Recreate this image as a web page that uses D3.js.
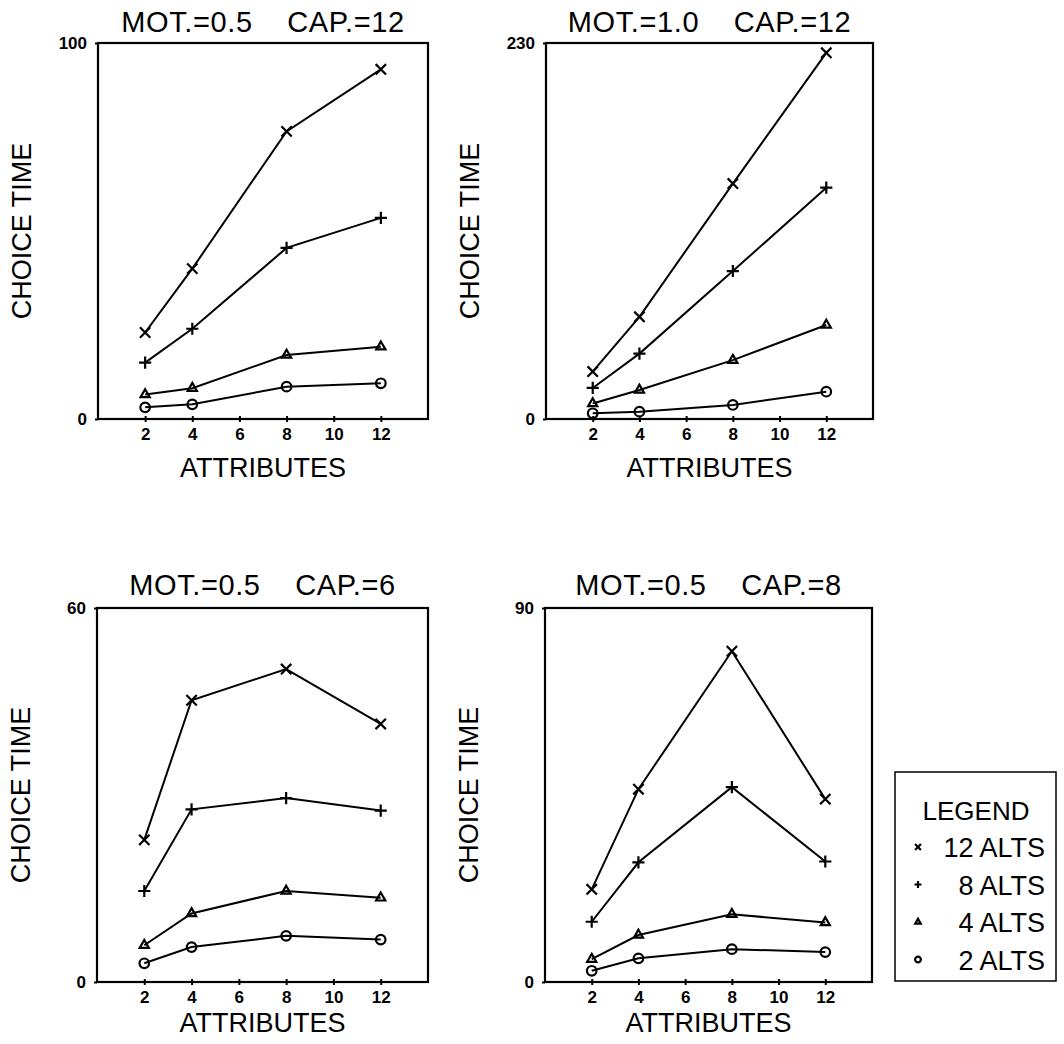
<!DOCTYPE html>
<html>
<head>
<meta charset="utf-8">
<script src="https://cdn.jsdelivr.net/npm/d3@7"></script>
<style>
  body { margin: 0; background: #fff; }
  text { font-family: "Liberation Sans", Arial, sans-serif; fill: #000; }
</style>
</head>
<body>
<svg id="chart"></svg>
<script>
// data
const attributes = [2, 4, 8, 12];
const xTickValues = [2, 4, 6, 8, 10, 12];
const seriesNames = ['12 ALTS', '8 ALTS', '4 ALTS', '2 ALTS'];
const panelTitles = ['MOT.=0.5    CAP.=12', 'MOT.=1.0    CAP.=12', 'MOT.=0.5    CAP.=6', 'MOT.=0.5    CAP.=8'];
const yMaxValues = [100, 230, 60, 90];

// choice time per panel, one row per series (12, 8, 4, 2 alts)
const mot05cap12 = [
    [23, 40, 76.5, 93],
    [15, 24, 45.5, 53.5],
    [6.5, 8.2, 17, 19.2],
    [3.1, 3.9, 8.6, 9.5]
];
const mot10cap12 = [
    [29, 62.5, 144, 224],
    [19, 40, 90.5, 141.5],
    [9.5, 17.7, 36, 57.5],
    [3.5, 4.5, 8.6, 16.7]
];
const mot05cap6 = [
    [22.8, 45.2, 50.2, 41.4],
    [14.6, 27.7, 29.5, 27.5],
    [5.9, 11, 14.6, 13.5],
    [3, 5.6, 7.4, 6.8]
];
const mot05cap8 = [
    [22.3, 46.4, 79.6, 44],
    [14.5, 28.8, 46.9, 29],
    [5.5, 11.3, 16.3, 14.3],
    [2.7, 5.7, 7.9, 7.2]
];
const panelData = [mot05cap12, mot10cap12, mot05cap6, mot05cap8];

// layout
const width = 1064;
const height = 1044;
const boxes = [
    { left: 98, top: 43, right: 428, bottom: 419, titleGap: 11, labelGap: 58 },
    { left: 546, top: 43, right: 873, bottom: 419, titleGap: 11, labelGap: 58 },
    { left: 97, top: 608, right: 428, bottom: 982, titleGap: 13, labelGap: 50 },
    { left: 545, top: 608, right: 872, bottom: 982, titleGap: 13, labelGap: 50 }
];

const symbolTypes = [d3.symbolTimes, d3.symbolPlus, d3.symbolTriangle2, d3.symbolCircle];
const symbolSizes = [72, 50, 60, 72];
const legendSizes = [24, 18, 22, 26];

const svg = d3.select('#chart')
    .attr('width', width)
    .attr('height', height);

function drawPanel(i) {
    const box = boxes[i];
    const x = d3.scaleLinear().domain([0, 14]).range([box.left, box.right]);
    const y = d3.scaleLinear().domain([0, yMaxValues[i]]).range([box.bottom, box.top]);
    const g = svg.append('g');
    const cx = (box.left + box.right) / 2;
    const cy = (box.top + box.bottom) / 2;

    // frame
    g.append('rect')
        .attr('x', box.left)
        .attr('y', box.top)
        .attr('width', box.right - box.left)
        .attr('height', box.bottom - box.top)
        .attr('fill', 'none')
        .attr('stroke', '#000')
        .attr('stroke-width', 2.2);

    // x ticks
    const xAxis = d3.axisBottom(x)
        .tickValues(xTickValues)
        .tickSize(3)
        .tickSizeOuter(0)
        .tickPadding(6);
    const xg = g.append('g')
        .attr('transform', `translate(0,${box.bottom})`)
        .call(xAxis);
    xg.select('.domain').remove();
    xg.selectAll('line').attr('y1', -3).attr('stroke-width', 2);
    xg.selectAll('text')
        .style('font-family', '"Liberation Sans", Arial, sans-serif')
        .style('font-weight', 'bold')
        .style('font-size', '17px');

    // y ticks: only 0 and max
    const yAxis = d3.axisLeft(y)
        .tickValues([0, yMaxValues[i]])
        .tickSize(3)
        .tickSizeOuter(0)
        .tickPadding(8);
    const yg = g.append('g')
        .attr('transform', `translate(${box.left},0)`)
        .call(yAxis);
    yg.select('.domain').remove();
    yg.selectAll('line').attr('stroke-width', 2);
    yg.selectAll('text')
        .style('font-family', '"Liberation Sans", Arial, sans-serif')
        .style('font-weight', 'bold')
        .style('font-size', '17px');

    // title
    g.append('text')
        .attr('x', cx)
        .attr('y', box.top - box.titleGap)
        .attr('text-anchor', 'middle')
        .style('white-space', 'pre')
        .style('font-size', '29px')
        .style('letter-spacing', '0.6px')
        .text(panelTitles[i]);

    // axis labels
    g.append('text')
        .attr('x', cx)
        .attr('y', box.bottom + box.labelGap)
        .attr('text-anchor', 'middle')
        .style('font-size', '27px')
        .text('ATTRIBUTES');
    g.append('text')
        .attr('transform', `translate(${box.left - 67},${cy}) rotate(-90)`)
        .attr('text-anchor', 'middle')
        .style('font-size', '27px')
        .text('CHOICE TIME');

    // series
    const line = d3.line()
        .x((d, k) => x(attributes[k]))
        .y(d => y(d));

    panelData[i].forEach((values, s) => {
        g.append('path')
            .datum(values)
            .attr('d', line)
            .attr('fill', 'none')
            .attr('stroke', '#000')
            .attr('stroke-width', 2);

        g.selectAll(null)
            .data(values)
            .join('path')
            .attr('transform', (d, k) => `translate(${x(attributes[k])},${y(d)})`)
            .attr('d', d3.symbol().type(symbolTypes[s]).size(symbolSizes[s]))
            .attr('fill', 'none')
            .attr('stroke', '#000')
            .attr('stroke-width', 2.2);
    });
}

[0, 1, 2, 3].forEach(drawPanel);

// legend
const legend = svg.append('g');
legend.append('rect')
    .attr('x', 895)
    .attr('y', 772)
    .attr('width', 161)
    .attr('height', 209)
    .attr('fill', 'none')
    .attr('stroke', '#000')
    .attr('stroke-width', 1.5);
legend.append('text')
    .attr('x', 976)
    .attr('y', 820)
    .attr('text-anchor', 'middle')
    .style('font-size', '26px')
    .text('LEGEND');

seriesNames.forEach((name, s) => {
    const rowY = 857 + s * 37.5;
    legend.append('path')
        .attr('transform', `translate(918,${rowY - 10})`)
        .attr('d', d3.symbol().type(symbolTypes[s]).size(legendSizes[s]))
        .attr('fill', 'none')
        .attr('stroke', '#000')
        .attr('stroke-width', 2.2);
    legend.append('text')
        .attr('x', 1045)
        .attr('y', rowY)
        .attr('text-anchor', 'end')
        .style('font-size', '27px')
        .text(name);
});
</script>
</body>
</html>
